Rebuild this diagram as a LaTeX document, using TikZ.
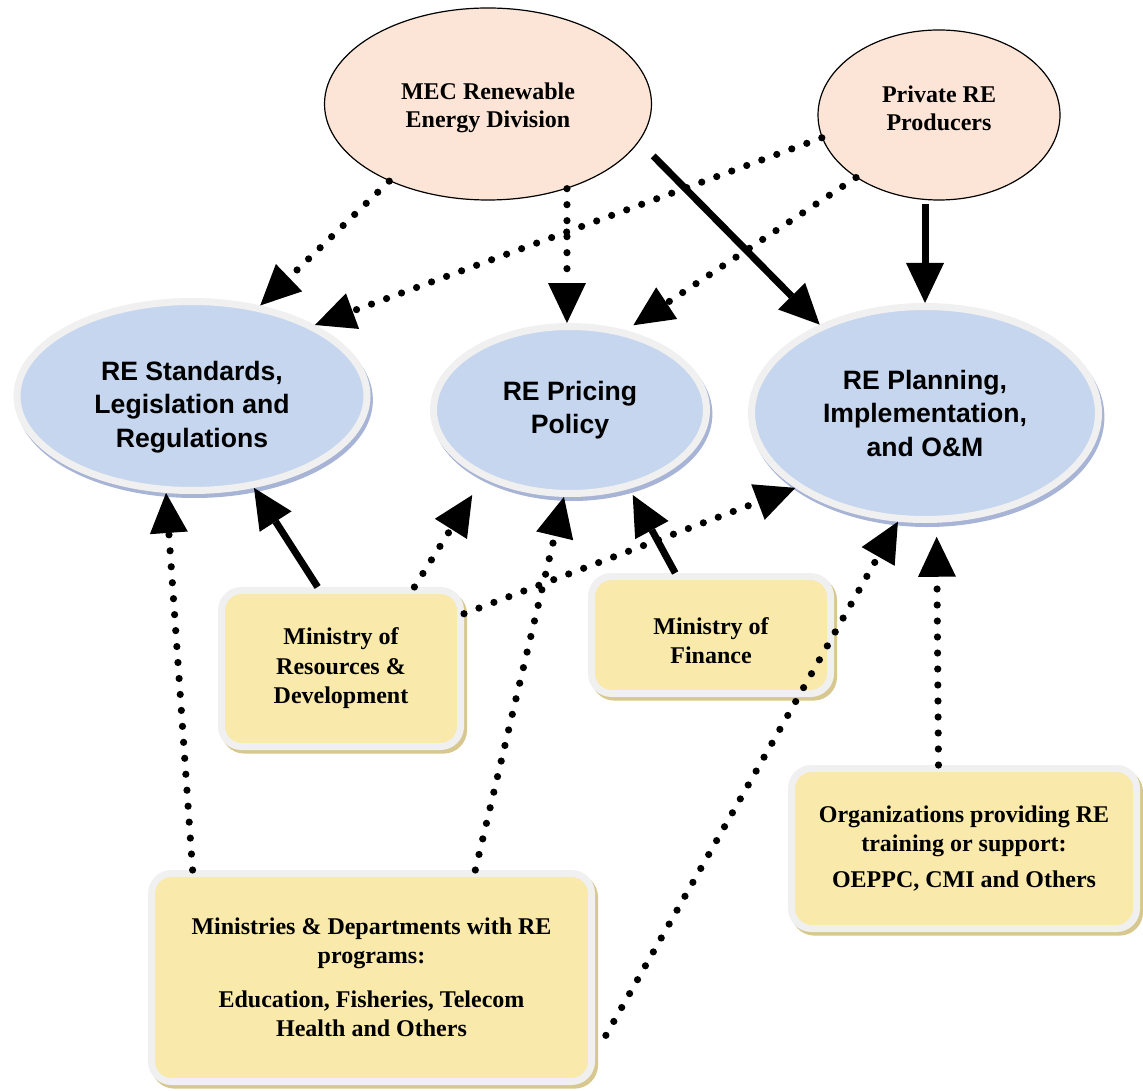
\documentclass[tikz,border=0pt]{standalone}
\usepackage{fontspec}
\setmainfont{Liberation Serif}
\setsansfont{Liberation Sans}
\usepackage{tikz}
\usetikzlibrary{shapes.geometric,arrows.meta}
\definecolor{reblue}{RGB}{198,214,238}
\definecolor{repeach}{RGB}{252,229,214}
\definecolor{reyellow}{RGB}{249,233,171}
\definecolor{rering}{RGB}{240,240,240}
\definecolor{reshblue}{RGB}{168,180,214}
\definecolor{reshkhaki}{RGB}{214,200,142}

\begin{document}
\begin{tikzpicture}[
        source/.style={ellipse, draw=black, line width=0.6pt, fill=repeach, inner sep=0pt, align=center,
                font=\bfseries\fontsize{12}{14}\selectfont},
        area/.style={ellipse, draw=rering, line width=3.5pt, fill=reblue, inner sep=0pt, align=center,
                font=\sffamily\bfseries\fontsize{13.3}{16.75}\selectfont,
                preaction={draw=reshblue, fill=reshblue, transform canvas={shift={(1.2pt,-2pt)}}}},
        actor/.style={rectangle, rounded corners=10pt, draw=rering, line width=3.5pt, fill=reyellow, inner sep=0pt, align=center,
                font=\bfseries\fontsize{12}{14.75}\selectfont,
                preaction={draw=reshkhaki, fill=reshkhaki, transform canvas={shift={(1.5pt,-1.8pt)}}}},
        solidarr/.style={line width=3.5pt, -{Triangle[length=20pt,width=19pt,line width=0pt]}},
        dotarr/.style={line width=3.6pt, line cap=round, dash pattern=on 0pt off 8pt, -{Triangle[length=20pt,width=19pt,line width=0pt]}},
]
        \useasboundingbox (0cm, 0cm) rectangle (20.085928cm, -19.154559cm);
        \node (v0) [source, minimum width=163.5pt, minimum height=96pt] at (8.575619cm, -1.827591cm) {\rule{0pt}{12pt}MEC Renewable\\Energy Division};
        \node (v1) [source, minimum width=121pt, minimum height=85pt] at (16.501038cm, -2.020894cm) {Private RE\\Producers\rule[-6.5pt]{0pt}{6.5pt}};
        \node (v2) [area, minimum width=175pt, minimum height=94.5pt] at (3.374014cm, -6.958904cm) {\rule{0pt}{20.5pt}RE Standards,\\Legislation and\\Regulations};
        \node (v3) [area, minimum width=136.5pt, minimum height=83.5pt] at (10.016604cm, -7.204926cm) {RE Pricing\\Policy};
        \node (v4) [area, minimum width=173.5pt, minimum height=106.5pt] at (16.255016cm, -7.257645cm) {RE Planning,\\Implementation,\\and O\&M};
        \node (v5) [actor, minimum width=119.5pt, minimum height=78pt] at (5.992390cm, -11.747543cm) {Ministry of\\Resources \&\\Development};
        \node (v6) [actor, minimum width=119.5pt, minimum height=58.5pt] at (12.494396cm, -11.158849cm) {\rule{0pt}{14pt}Ministry of\\Finance};
        \node (v7) [actor, minimum width=220pt, minimum height=104pt] at (6.528366cm, -17.177597cm) {Ministries \& Departments with RE\\programs:\\[7pt]Education, Fisheries, Telecom\\Health and Others};
        \node (v8) [actor, minimum width=172.5pt, minimum height=80pt] at (16.940362cm, -14.910682cm) {Organizations providing RE\\training or support:\\[3pt]OEPPC, CMI and Others};
        \draw (v0.218.5) edge [dotarr] (v2.53);
        \draw (v0.-47.4) edge [dotarr] (v3.92);
        \draw (v0.-14.5) edge [solidarr, shorten <=10pt] (v4.140);
        \draw (v1.191) edge [dotarr] (v2.30);
        \draw (v1.217.7) edge [dotarr, shorten >=4.5pt] (v3.55.4);
        \draw (v4.north |- v1.south) edge [solidarr, shorten <=1.5pt] (v4.north);
        \draw (v5.106) edge [solidarr] (v2.-56);
        \draw (v5.48.4) edge [dotarr, shorten >=10pt] (v3.218);
        \draw (v5.24.8) edge [dotarr] (v4.210.6);
        \draw (v6.120) edge [solidarr, shorten >=3.5pt] (v3.-53);
        \draw (v7.149) edge [dotarr] (v2.255);
        \draw (v7.46.6) edge [dotarr] (v3.266.6);
        \draw (v7.-19.2) edge [dotarr, shorten <=11pt] (v4.256);
        \draw (v8.107.3) edge [dotarr, shorten >=7pt] (v4.276.8);
\end{tikzpicture}
\end{document}
